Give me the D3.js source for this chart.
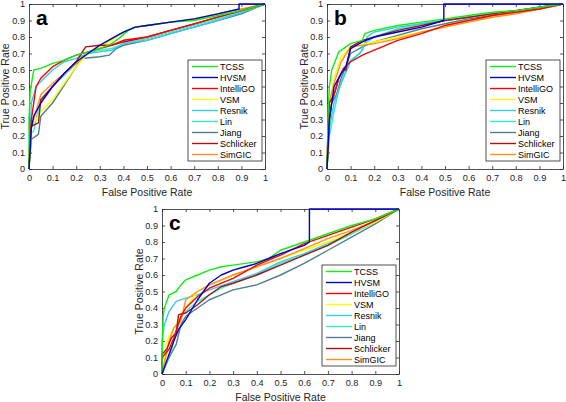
<!DOCTYPE html>
<html><head><meta charset="utf-8">
<script src="https://cdn.jsdelivr.net/npm/d3@7"></script>
<style>body{margin:0;background:#fff}svg{display:block;font-family:"Liberation Sans",Arial,sans-serif}</style>
</head><body><svg id="c" width="566" height="402"></svg>
<script>
const seriesNames = ["TCSS","HVSM","IntelliGO","VSM","Resnik","Lin","Jiang","Schlicker","SimGIC"];
const seriesColors = ["#11ee11","#0000cc","#ff0000","#ffff00","#33ccee","#33eecc","#4f7f8f","#b01010","#ff9020"];
const ticks = [0,0.1,0.2,0.3,0.4,0.5,0.6,0.7,0.8,0.9,1];
const tickLabels = ["0","0.1","0.2","0.3","0.4","0.5","0.6","0.7","0.8","0.9","1"];
const panelLabels = ["a","b","c"];

// Panel a: [FPR, TPR]
const a_TCSS = [[0,0],[0,0.3],[0.005,0.47],[0.02,0.6],[0.05,0.61],[0.1,0.64],[0.15,0.66],[0.2,0.69],[0.25,0.71],[0.3,0.73],[0.35,0.76],[0.38,0.79],[0.42,0.84],[0.45,0.86],[0.5,0.87],[0.6,0.89],[0.7,0.9],[0.8,0.93],[0.9,0.96],[1,1]];
const a_HVSM = [[0,0],[0.01,0.25],[0.02,0.32],[0.05,0.4],[0.1,0.5],[0.15,0.58],[0.2,0.65],[0.25,0.7],[0.3,0.75],[0.35,0.79],[0.4,0.83],[0.45,0.86],[0.5,0.87],[0.6,0.89],[0.7,0.91],[0.8,0.94],[0.89,0.97],[0.89,1],[1,1]];
const a_IntelliGO = [[0,0],[0.01,0.3],[0.03,0.5],[0.05,0.55],[0.1,0.62],[0.15,0.66],[0.2,0.69],[0.25,0.71],[0.3,0.73],[0.35,0.75],[0.4,0.78],[0.5,0.8],[0.6,0.84],[0.7,0.88],[0.8,0.92],[0.9,0.96],[1,1]];
const a_VSM = [[0,0],[0.01,0.25],[0.05,0.35],[0.1,0.42],[0.15,0.52],[0.2,0.62],[0.25,0.7],[0.3,0.74],[0.35,0.78],[0.4,0.83],[0.45,0.86],[0.5,0.87],[0.6,0.89],[0.7,0.91],[0.8,0.94],[0.9,0.97],[1,1]];
const a_Resnik = [[0,0],[0.01,0.4],[0.03,0.5],[0.05,0.53],[0.1,0.6],[0.15,0.65],[0.2,0.67],[0.25,0.7],[0.3,0.71],[0.35,0.72],[0.4,0.76],[0.5,0.78],[0.6,0.82],[0.7,0.86],[0.8,0.9],[0.9,0.95],[1,1]];
const a_Lin = [[0,0],[0.01,0.22],[0.02,0.23],[0.03,0.3],[0.05,0.42],[0.1,0.5],[0.15,0.57],[0.2,0.64],[0.25,0.7],[0.3,0.72],[0.35,0.73],[0.4,0.76],[0.5,0.79],[0.6,0.83],[0.7,0.87],[0.8,0.91],[0.9,0.95],[1,1]];
const a_Jiang = [[0,0],[0.01,0.18],[0.04,0.21],[0.05,0.32],[0.1,0.4],[0.15,0.51],[0.2,0.62],[0.22,0.67],[0.3,0.68],[0.34,0.69],[0.37,0.73],[0.4,0.75],[0.5,0.78],[0.6,0.82],[0.7,0.86],[0.8,0.9],[0.9,0.94],[1,1]];
const a_Schlicker = [[0,0],[0.005,0.22],[0.01,0.26],[0.04,0.28],[0.05,0.42],[0.1,0.5],[0.15,0.58],[0.2,0.65],[0.24,0.74],[0.3,0.75],[0.35,0.75],[0.4,0.77],[0.5,0.8],[0.6,0.84],[0.7,0.88],[0.8,0.92],[0.9,0.96],[1,1]];
const a_SimGIC = [[0,0],[0.01,0.25],[0.03,0.35],[0.05,0.45],[0.1,0.52],[0.15,0.58],[0.2,0.64],[0.25,0.7],[0.3,0.75],[0.35,0.79],[0.4,0.83],[0.45,0.86],[0.5,0.87],[0.6,0.89],[0.7,0.91],[0.8,0.94],[0.9,0.97],[1,1]];

// Panel b
const b_TCSS = [[0,0],[0.005,0.35],[0.01,0.5],[0.02,0.6],[0.05,0.71],[0.1,0.76],[0.15,0.78],[0.16,0.82],[0.2,0.84],[0.3,0.87],[0.4,0.89],[0.5,0.91],[0.6,0.93],[0.7,0.95],[0.8,0.96],[0.9,0.98],[1,1]];
const b_HVSM = [[0,0],[0.01,0.3],[0.03,0.5],[0.06,0.58],[0.08,0.62],[0.1,0.73],[0.15,0.77],[0.2,0.8],[0.3,0.83],[0.4,0.86],[0.495,0.9],[0.495,1],[1,1]];
const b_IntelliGO = [[0,0],[0.01,0.3],[0.02,0.4],[0.05,0.55],[0.07,0.61],[0.1,0.65],[0.15,0.69],[0.2,0.72],[0.3,0.78],[0.4,0.82],[0.5,0.87],[0.6,0.9],[0.7,0.93],[0.8,0.95],[0.9,0.97],[1,1]];
const b_VSM = [[0,0],[0.01,0.4],[0.03,0.55],[0.06,0.68],[0.1,0.74],[0.2,0.77],[0.3,0.8],[0.4,0.83],[0.5,0.86],[0.6,0.9],[0.7,0.92],[0.8,0.95],[0.9,0.97],[1,1]];
const b_Resnik = [[0,0],[0.01,0.25],[0.03,0.4],[0.06,0.52],[0.1,0.65],[0.15,0.72],[0.17,0.8],[0.2,0.83],[0.3,0.86],[0.4,0.88],[0.5,0.9],[0.6,0.92],[0.7,0.94],[0.8,0.96],[0.9,0.98],[1,1]];
const b_Lin = [[0,0],[0.01,0.2],[0.03,0.35],[0.05,0.48],[0.08,0.6],[0.1,0.66],[0.14,0.7],[0.16,0.76],[0.2,0.8],[0.3,0.85],[0.4,0.88],[0.5,0.9],[0.6,0.92],[0.7,0.94],[0.8,0.96],[0.9,0.98],[1,1]];
const b_Jiang = [[0,0],[0.01,0.3],[0.02,0.4],[0.04,0.45],[0.06,0.55],[0.08,0.62],[0.1,0.7],[0.15,0.74],[0.2,0.77],[0.3,0.81],[0.4,0.85],[0.5,0.88],[0.6,0.91],[0.7,0.93],[0.8,0.95],[0.9,0.97],[1,1]];
const b_Schlicker = [[0,0],[0.005,0.3],[0.01,0.4],[0.03,0.45],[0.05,0.55],[0.07,0.6],[0.08,0.6],[0.1,0.74],[0.15,0.78],[0.2,0.8],[0.3,0.84],[0.4,0.87],[0.5,0.9],[0.6,0.92],[0.7,0.94],[0.8,0.96],[0.9,0.98],[1,1]];
const b_SimGIC = [[0,0],[0.01,0.4],[0.03,0.52],[0.06,0.65],[0.1,0.74],[0.2,0.76],[0.3,0.79],[0.4,0.83],[0.5,0.86],[0.6,0.89],[0.7,0.92],[0.8,0.94],[0.9,0.97],[1,1]];

// Panel c
const c_TCSS = [[0,0],[0,0.12],[0.005,0.35],[0.01,0.4],[0.03,0.48],[0.06,0.5],[0.08,0.54],[0.1,0.57],[0.15,0.6],[0.2,0.63],[0.25,0.65],[0.3,0.66],[0.4,0.68],[0.45,0.7],[0.5,0.75],[0.6,0.8],[0.7,0.85],[0.8,0.9],[0.9,0.94],[1,1]];
const c_HVSM = [[0,0],[0.05,0.2],[0.07,0.27],[0.1,0.33],[0.15,0.45],[0.2,0.55],[0.25,0.6],[0.3,0.63],[0.35,0.65],[0.4,0.67],[0.45,0.7],[0.5,0.73],[0.6,0.78],[0.622,0.8],[0.622,1],[1,1]];
const c_IntelliGO = [[0,0],[0,0.1],[0.03,0.15],[0.05,0.22],[0.08,0.35],[0.1,0.4],[0.15,0.47],[0.2,0.52],[0.3,0.58],[0.4,0.66],[0.5,0.72],[0.6,0.79],[0.7,0.84],[0.8,0.89],[0.9,0.94],[1,1]];
const c_VSM = [[0,0],[0.02,0.2],[0.05,0.28],[0.1,0.4],[0.15,0.5],[0.2,0.54],[0.3,0.6],[0.4,0.65],[0.5,0.7],[0.6,0.75],[0.7,0.8],[0.8,0.86],[0.9,0.92],[1,1]];
const c_Resnik = [[0,0],[0,0.2],[0.01,0.3],[0.03,0.38],[0.06,0.44],[0.1,0.46],[0.15,0.48],[0.2,0.51],[0.3,0.56],[0.4,0.61],[0.5,0.68],[0.6,0.73],[0.7,0.79],[0.8,0.86],[0.9,0.92],[1,1]];
const c_Lin = [[0,0],[0.04,0.15],[0.06,0.25],[0.08,0.35],[0.1,0.38],[0.15,0.44],[0.2,0.48],[0.25,0.52],[0.3,0.55],[0.4,0.6],[0.5,0.67],[0.6,0.72],[0.7,0.78],[0.8,0.85],[0.9,0.92],[1,1]];
const c_Jiang = [[0,0],[0.03,0.1],[0.06,0.18],[0.08,0.3],[0.1,0.35],[0.15,0.4],[0.2,0.45],[0.25,0.48],[0.3,0.51],[0.4,0.54],[0.5,0.6],[0.6,0.67],[0.7,0.75],[0.8,0.83],[0.9,0.91],[1,1]];
const c_Schlicker = [[0,0],[0,0.12],[0.02,0.15],[0.04,0.22],[0.06,0.25],[0.07,0.36],[0.1,0.37],[0.15,0.42],[0.2,0.48],[0.25,0.53],[0.3,0.55],[0.4,0.6],[0.5,0.66],[0.6,0.72],[0.7,0.78],[0.8,0.86],[0.9,0.93],[1,1]];
const c_SimGIC = [[0,0],[0.03,0.2],[0.05,0.28],[0.08,0.32],[0.1,0.45],[0.15,0.5],[0.2,0.54],[0.3,0.6],[0.4,0.65],[0.5,0.7],[0.6,0.76],[0.7,0.82],[0.8,0.87],[0.9,0.93],[1,1]];

const panelA = [a_TCSS,a_HVSM,a_IntelliGO,a_VSM,a_Resnik,a_Lin,a_Jiang,a_Schlicker,a_SimGIC];
const panelB = [b_TCSS,b_HVSM,b_IntelliGO,b_VSM,b_Resnik,b_Lin,b_Jiang,b_Schlicker,b_SimGIC];
const panelC = [c_TCSS,c_HVSM,c_IntelliGO,c_VSM,c_Resnik,c_Lin,c_Jiang,c_Schlicker,c_SimGIC];

const svg = d3.select("#c");
const layouts = [
  {data: panelA, left: 29, right: 265, top: 4, bottom: 169, ylabX: 9},
  {data: panelB, left: 327, right: 563, top: 4, bottom: 169, ylabX: 308},
  {data: panelC, left: 162, right: 399, top: 209, bottom: 374, ylabX: 143}
];

layouts.forEach((L, pi) => {
  const x = d3.scaleLinear().domain([0,1]).range([L.left, L.right]);
  const y = d3.scaleLinear().domain([0,1]).range([L.bottom, L.top]);
  const g = svg.append("g");
  g.append("rect").attr("x",L.left).attr("y",L.top).attr("width",L.right-L.left).attr("height",L.bottom-L.top).attr("fill","#fff");

  const fmt = (d,i) => tickLabels[i];
  const ax = [
    g.append("g").attr("transform",`translate(0,${L.bottom})`).call(d3.axisBottom(x).tickValues(ticks).tickFormat(fmt).tickSizeInner(-3).tickSizeOuter(0).tickPadding(5)),
    g.append("g").attr("transform",`translate(${L.left},0)`).call(d3.axisLeft(y).tickValues(ticks).tickFormat(fmt).tickSizeInner(-3).tickSizeOuter(0).tickPadding(4)),
    g.append("g").attr("transform",`translate(0,${L.top})`).call(d3.axisTop(x).tickValues(ticks).tickFormat("").tickSizeInner(-3).tickSizeOuter(0)),
    g.append("g").attr("transform",`translate(${L.right},0)`).call(d3.axisRight(y).tickValues(ticks).tickFormat("").tickSizeInner(-3).tickSizeOuter(0))
  ];
  ax.forEach(a => {
    a.select(".domain").attr("stroke","#262626").attr("stroke-width",0.8);
    a.selectAll(".tick line").attr("stroke","#262626").attr("stroke-width",0.8);
    a.selectAll(".tick text").attr("fill","#262626").style("font-size","9.2px").style("font-family","Liberation Sans, Arial, sans-serif");
  });

  const line = d3.line().x(d => x(d[0])).y(d => y(d[1]));
  const order = [6,5,4,3,8,7,2,0,1];
  order.forEach(si => {
    g.append("path").datum(L.data[si]).attr("d",line).attr("fill","none")
      .attr("stroke",seriesColors[si]).attr("stroke-width",1.4).attr("stroke-linejoin","round");
  });

  g.append("text").attr("x",(L.left+L.right)/2).attr("y",L.bottom+26.5).attr("text-anchor","middle")
    .attr("fill","#262626").style("font-size","10.5px").text("False Positive Rate");
  g.append("text").attr("transform",`translate(${L.ylabX},${(L.top+L.bottom)/2}) rotate(-90)`).attr("text-anchor","middle")
    .attr("fill","#262626").style("font-size","10.5px").text("True Positive Rate");

  g.append("text").attr("x",L.left+7).attr("y",L.top+21).attr("fill","#000")
    .style("font-size","21px").style("font-weight","bold").text(panelLabels[pi]);

  const lx = L.right - 77, ly = L.top + 56;
  const lg = g.append("g");
  lg.append("rect").attr("x",lx).attr("y",ly).attr("width",74).attr("height",101)
    .attr("fill","#fff").attr("stroke","#262626").attr("stroke-width",0.8);
  seriesNames.forEach((n,i) => {
    const yy = ly + 6.5 + i*11;
    lg.append("line").attr("x1",lx+4).attr("x2",lx+30).attr("y1",yy).attr("y2",yy)
      .attr("stroke",seriesColors[i]).attr("stroke-width",1.4);
    lg.append("text").attr("x",lx+32).attr("y",yy+3.3).attr("fill","#000")
      .style("font-size","9px").text(n);
  });
});
</script></body></html>
